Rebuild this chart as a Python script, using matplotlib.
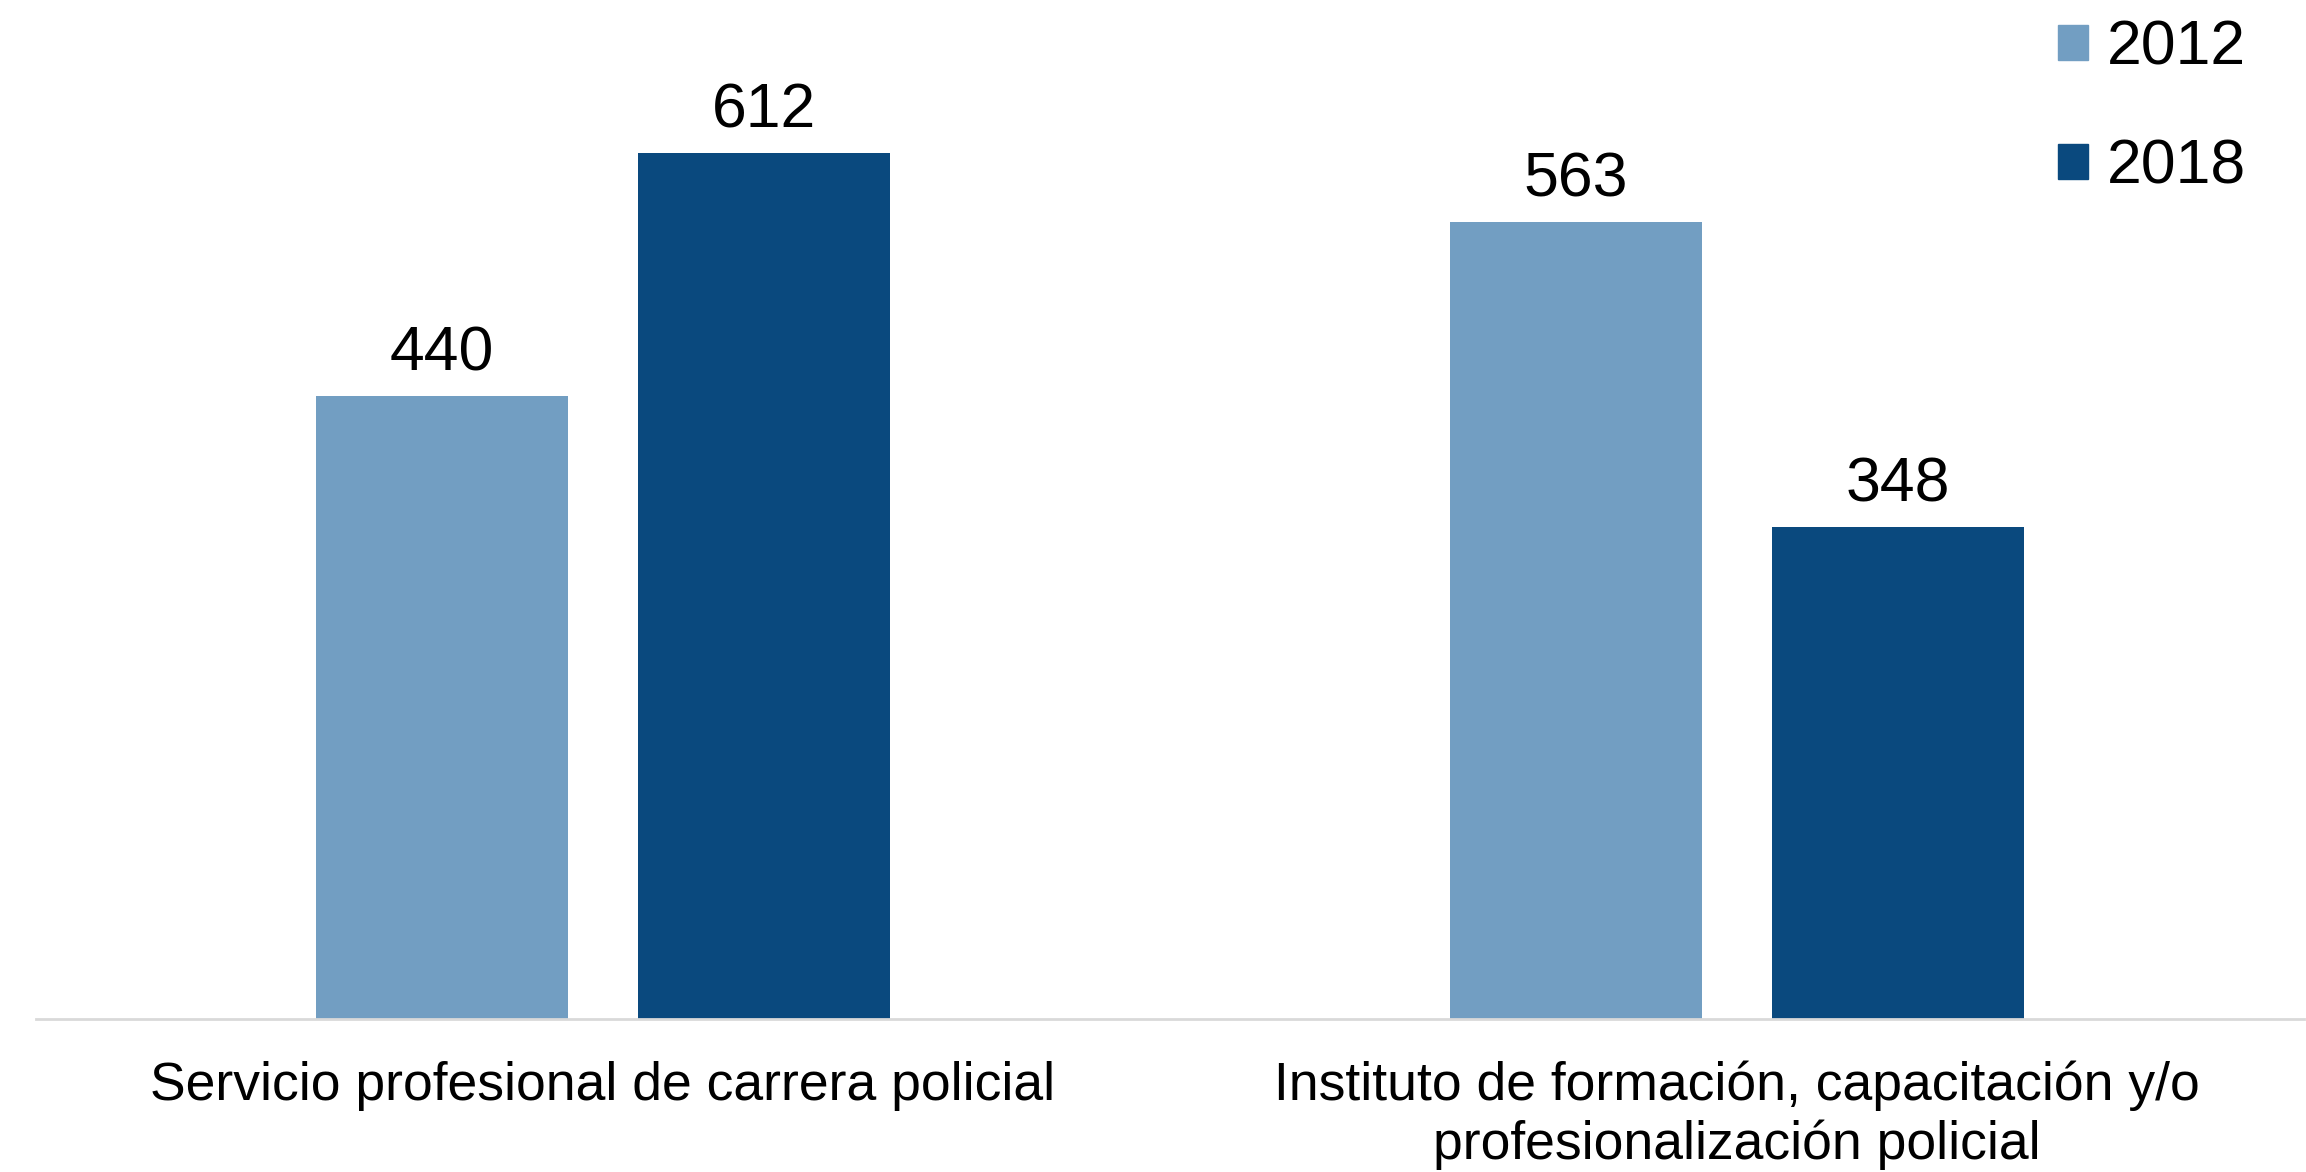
import matplotlib
matplotlib.use('Agg')
from matplotlib import pyplot as plt
from matplotlib.patches import Patch
import numpy as np

# datos
categorias = ['Servicio profesional de carrera policial',
              'Instituto de formación, capacitación y/o\nprofesionalización policial']
anios = ['2012', '2018']
valores_2012 = [440, 563]
valores_2018 = [612, 348]
colores = ['#729EC2', '#0A497E']

plt.rcParams['font.family'] = ['Liberation Sans', 'DejaVu Sans']

fig = plt.figure(figsize=(23.06, 11.72), dpi=100)
ax = fig.add_axes([0.0155, 0.1305, 0.9835, 0.8695])

x = np.arange(len(categorias))
ancho = 0.222
desp = 0.142
b1 = ax.bar(x - desp, valores_2012, ancho, color=colores[0])
b2 = ax.bar(x + desp, valores_2018, ancho, color=colores[1])

for barras in (b1, b2):
    for r in barras:
        ax.annotate(f'{int(r.get_height())}',
                    (r.get_x() + r.get_width() / 2, r.get_height()),
                    xytext=(0, 9), textcoords='offset points',
                    ha='center', va='bottom', fontsize=45)

ax.set_xlim(-0.5, 1.5)
ax.set_ylim(0, 720)
ax.set_xticks(x)
ax.set_xticklabels(categorias, fontsize=38.5, linespacing=1.22)
ax.tick_params(axis='x', length=0, pad=30)
ax.set_yticks([])
for s in ('top', 'right', 'left'):
    ax.spines[s].set_visible(False)
ax.spines['bottom'].set_color('#D9D9D9')
ax.spines['bottom'].set_linewidth(2)

handles = [Patch(color=c, label=a) for c, a in zip(colores, anios)]
fig.legend(handles=handles, loc='upper right', bbox_to_anchor=(0.982, 1.0),
           frameon=False, fontsize=45, handlelength=0.48, handleheight=0.48,
           handletextpad=0.3, labelspacing=0.96, borderaxespad=0, borderpad=0.3)

fig.savefig('out.png', dpi=100)
